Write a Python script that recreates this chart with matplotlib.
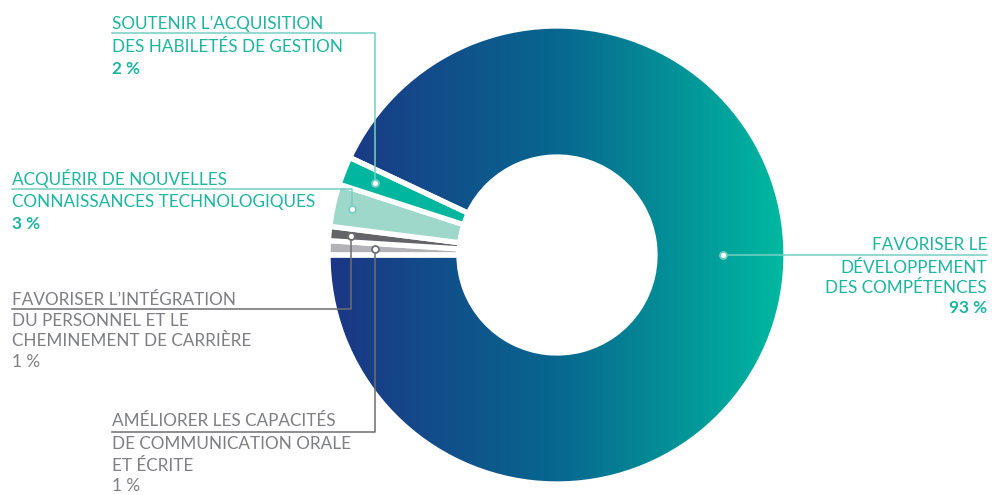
import numpy as np
import matplotlib
matplotlib.use("Agg")
import matplotlib.pyplot as plt
from matplotlib.colors import LinearSegmentedColormap

# ---- data (clockwise from 9 o'clock) ----
categories = [
    "AMÉLIORER LES CAPACITÉS\nDE COMMUNICATION ORALE\nET ÉCRITE",
    "FAVORISER L’INTÉGRATION\nDU PERSONNEL ET LE\nCHEMINEMENT DE CARRIÈRE",
    "ACQUÉRIR DE NOUVELLES\nCONNAISSANCES TECHNOLOGIQUES",
    "SOUTENIR L’ACQUISITION\nDES HABILETÉS DE GESTION",
    "FAVORISER LE\nDÉVELOPPEMENT\nDES COMPÉTENCES",
]
values = [1, 1, 3, 2, 93]
pct_labels = ["1 %", "1 %", "3 %", "2 %", "93 %"]

slice_colors = ["#b1b3b6", "#636468", "#9dd8cb", "#00b69e", "none"]
grad_colors = ["#1c3685", "#07678f", "#00b9a0"]
teal_txt = "#1cb5a0"
gray_txt = "#7d7f82"
teal_line = "#74d0c3"
gray_line = "#6d6e71"

W, H = 992, 495
fig = plt.figure(figsize=(W / 100, H / 100), dpi=100)
ax = fig.add_axes([0, 0, 1, 1])

def Y(y):
    return H - y

cx, cy = 557, Y(255)
R, ring = 229, 131

wedges, _ = ax.pie(values, colors=slice_colors, startangle=180, counterclock=False,
                   center=(cx, cy), radius=R, frame=True,
                   wedgeprops=dict(width=ring, edgecolor="white", linewidth=3.8))

# gradient fill for big wedge
grad = np.linspace(0, 1, 512).reshape(1, -1)
cmap = LinearSegmentedColormap.from_list("g", grad_colors)
im = ax.imshow(grad, cmap=cmap, extent=[cx - R, cx + R, cy - R, cy + R],
               aspect="auto", zorder=0.5, interpolation="bilinear")
im.set_clip_path(wedges[-1])
wedges[-1].set_zorder(1)

ax.set_xlim(0, W)
ax.set_ylim(0, H)
ax.set_aspect("auto")
ax.axis("off")

FONT = "Lato"
FS = 12.3

def mid_angle(w):
    return np.deg2rad((w.theta1 + w.theta2) / 2)

def draw_label(idx, r_dot, ang, y_line, x_text, lines_y, pct_y, color, lcolor, pct_bold, ha="left"):
    a = ang if ang is not None else mid_angle(wedges[idx])
    dx = cx + r_dot * np.cos(a)
    dy = cy + r_dot * np.sin(a)
    if ha == "left":
        ax.plot([dx, dx, x_text], [dy, Y(y_line), Y(y_line)], color=lcolor, lw=1.1, zorder=3)
    else:
        ax.plot([dx, x_text], [Y(y_line), Y(y_line)], color=lcolor, lw=1.1, zorder=3)
    ax.plot([dx], [dy], marker="o", ms=5, mfc="white", mec=lcolor, mew=1.3, zorder=4)
    for line, yy in zip(categories[idx].split("\n"), lines_y):
        ax.text(x_text, Y(yy + 6), line, ha=ha, va="baseline", fontsize=FS,
                family=FONT, color=color)
    ax.text(x_text, Y(pct_y + 6), pct_labels[idx], ha=ha, va="baseline", fontsize=FS,
            family=FONT, color=color, fontweight="bold" if pct_bold else "normal")

draw_label(3, 196, None, 33, 112, [23, 46], 68, teal_txt, teal_line, True)
draw_label(2, 210, None, 189, 12, [179, 201], 223, teal_txt, teal_line, True)
draw_label(1, 207, None, 309, 12, [299, 320, 340], 361, gray_txt, gray_line, False)
draw_label(0, 182, None, 432, 112, [420, 443, 465], 485, gray_txt, gray_line, False)
draw_label(4, 166, 0.0, 255, 987, [244, 267, 287], 307, teal_txt, teal_line, True, ha="right")

fig.savefig("out.png", dpi=100, facecolor="white")
